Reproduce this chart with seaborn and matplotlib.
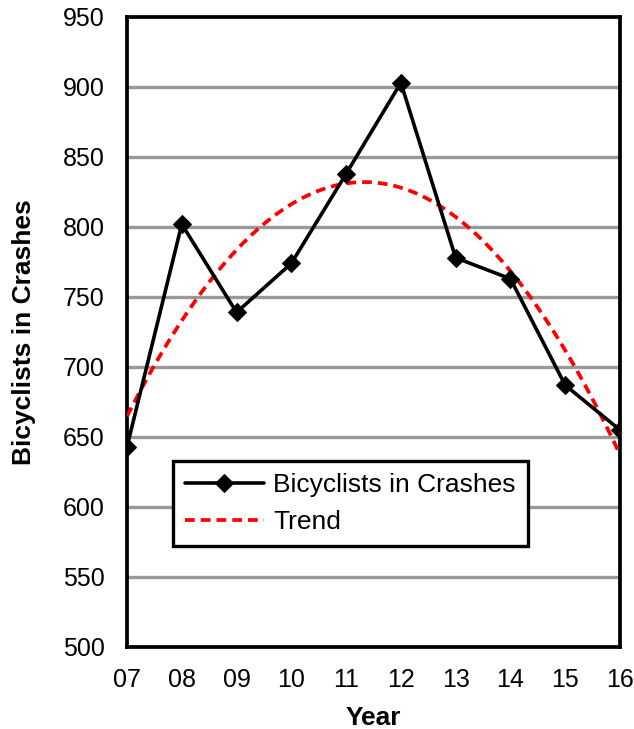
import matplotlib
matplotlib.use("Agg")
import matplotlib.pyplot as plt
import seaborn as sns
import pandas as pd

# values
years = [7, 8, 9, 10, 11, 12, 13, 14, 15, 16]
year_labels = ["07", "08", "09", "10", "11", "12", "13", "14", "15", "16"]
bicyclists = [643, 802, 739, 774, 838, 903, 778, 763, 687, 655]
y_ticks = [500, 550, 600, 650, 700, 750, 800, 850, 900, 950]

df = pd.DataFrame({"year": years, "bicyclists": bicyclists})

sns.set_style("white")
plt.rcParams["font.family"] = ["Liberation Sans", "DejaVu Sans"]
plt.rcParams["text.color"] = "black"
plt.rcParams["axes.labelcolor"] = "black"

fig = plt.figure(figsize=(6.34, 7.29), dpi=100)
ax = fig.add_axes([0.2003, 0.1125, 0.7776, 0.8642])

for v in y_ticks[1:-1]:
    ax.axhline(v, color="#999999", lw=2.4, zorder=0)

# Excel-style polynomial (order 2) trendline
sns.regplot(data=df, x="year", y="bicyclists", order=2, ci=None, scatter=False,
            truncate=True, ax=ax, label="Trend",
            line_kws=dict(color="#ff0000", lw=2.7, ls=(0, (2.6, 1.6)), zorder=3))
sns.lineplot(data=df, x="year", y="bicyclists", ax=ax, color="black", lw=2.6,
             marker="D", markersize=9.5, markeredgecolor="black",
             label="Bicyclists in Crashes", zorder=4)

ax.set_xlim(7, 16)
ax.set_ylim(500, 950)
ax.set_xticks(years)
ax.set_xticklabels(year_labels)
ax.set_yticks(y_ticks)
ax.tick_params(axis="both", direction="out", length=7, width=2.5, labelsize=18,
               colors="black")
ax.tick_params(axis="x", pad=8)
ax.tick_params(axis="y", pad=9)

for side in ["left", "right", "top", "bottom"]:
    ax.spines[side].set_visible(True)
    ax.spines[side].set_color("black")
    ax.spines[side].set_linewidth(2.7)

ax.set_xlabel("Year", fontsize=19, fontweight="bold", labelpad=10)
ax.set_ylabel("Bicyclists in Crashes", fontsize=19, fontweight="bold", labelpad=19)

handles, labels = ax.get_legend_handles_labels()
order = [labels.index("Bicyclists in Crashes"), labels.index("Trend")]
leg = ax.legend([handles[i] for i in order], [labels[i] for i in order],
                loc="lower left", bbox_to_anchor=(0.0933, 0.1603), borderaxespad=0,
                fontsize=19, frameon=True, fancybox=False, edgecolor="black",
                framealpha=1, handlelength=3.0, handletextpad=0.35,
                borderpad=0.45, labelspacing=0.5)
leg.get_frame().set_linewidth(2.4)

fig.savefig("out.png", dpi=100)
plt.close(fig)
